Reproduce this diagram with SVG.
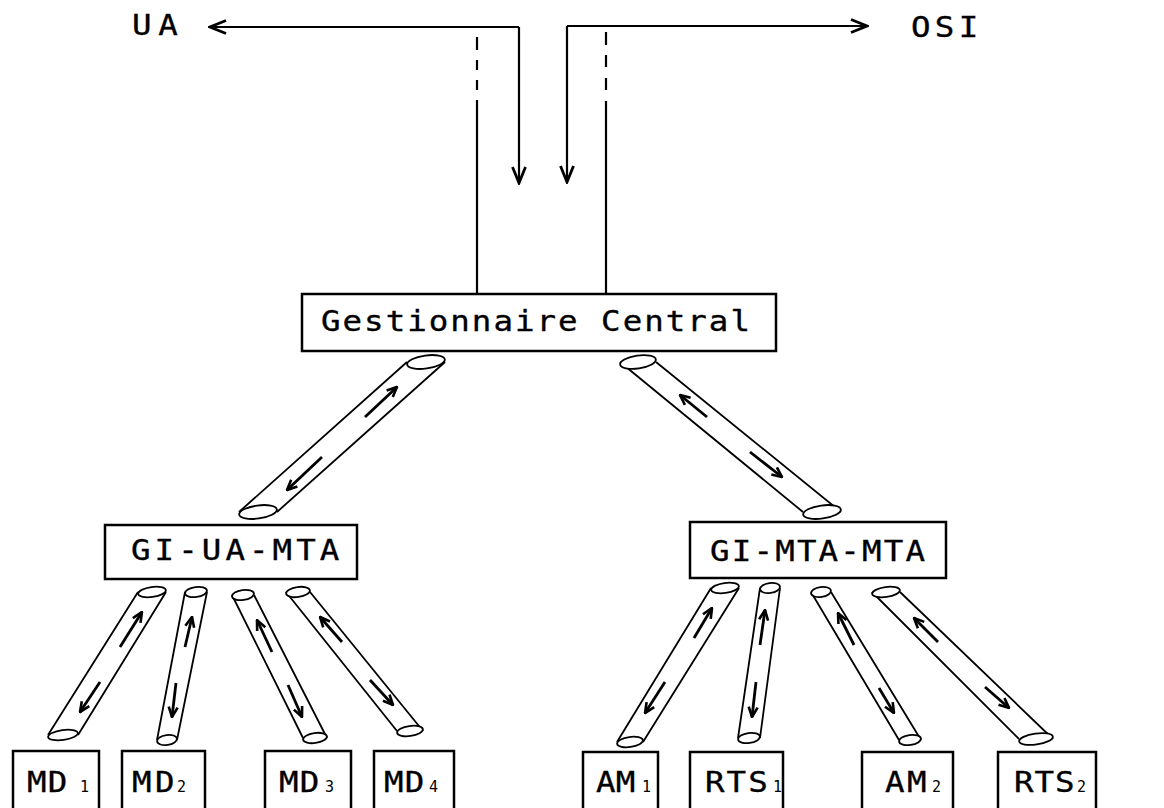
<svg xmlns="http://www.w3.org/2000/svg" width="1164" height="808" viewBox="0 0 1164 808">
<defs>
<style>
.box{fill:#fff;stroke:#000;stroke-width:2.5}
.lbl{font-family:"DejaVu Sans Mono","Liberation Mono",monospace;font-size:29px;fill:#000;stroke:#000;stroke-width:0.35}
.sub{font-family:"DejaVu Sans Mono","Liberation Mono",monospace;font-size:15px;fill:#000}
.ln{fill:none;stroke:#000;stroke-width:2.2}
.pipe{fill:none;stroke:#000;stroke-width:1.8}
.cap{fill:#fff;stroke:#000;stroke-width:1.8}
.ar{fill:none;stroke:#000;stroke-width:2.8;marker-end:url(#sm)}
</style>
<marker id="big" viewBox="0 0 20 16" refX="18" refY="8" markerWidth="20" markerHeight="16" markerUnits="userSpaceOnUse" orient="auto"><path d="M2,1.5 L18,8 L2,14.5" fill="none" stroke="#000" stroke-width="2.8"/></marker>
<marker id="sm" viewBox="0 0 12 12" refX="11" refY="6" markerWidth="12" markerHeight="12" markerUnits="userSpaceOnUse" orient="auto"><path d="M1,1.5 L11,6 L1,10.5" fill="none" stroke="#000" stroke-width="2.6"/></marker>
</defs>
<rect width="1164" height="808" fill="#fff"/>

<g id="connectors">
  <path class="ln" d="M519,27 H210" marker-end="url(#big)"/>
  <path class="ln" d="M519,27 V183" marker-end="url(#big)"/>
  <path class="ln" d="M567,26 H867" marker-end="url(#big)"/>
  <path class="ln" d="M567,26 V182" marker-end="url(#big)"/>
  <path class="ln" d="M477,37V50 M477,60V70 M477,80V90 M477,100V294"/>
  <path class="ln" d="M606,32V45 M606,55V67 M606,78V90 M606,101V294"/>

  <g id="pipe-gc-ua">
    <path class="pipe" d="M407,362 L239,512 M445,362 L277,512"/>
    <ellipse class="cap" cx="426" cy="362" rx="19" ry="6.5" transform="rotate(-8 426 362)"/>
    <ellipse class="cap" cx="258" cy="512" rx="19" ry="6.5" transform="rotate(-8 258 512)"/>
    <line class="ar" x1="365" y1="417" x2="397" y2="387"/>
    <line class="ar" x1="322" y1="457" x2="287" y2="490"/>
  </g>
  <g id="pipe-gc-mta">
    <path class="pipe" d="M620,362 L803,512 M656,362 L841,512"/>
    <ellipse class="cap" cx="638" cy="362" rx="18" ry="6.5" transform="rotate(-8 638 362)"/>
    <ellipse class="cap" cx="822" cy="512" rx="19" ry="6.5" transform="rotate(-8 822 512)"/>
    <line class="ar" x1="707" y1="417" x2="680" y2="395"/>
    <line class="ar" x1="750" y1="452" x2="782" y2="477"/>
  </g>

  <g id="pipe-md1">
    <path class="pipe" d="M138,592 L48,735 M166,592 L78,735"/>
    <ellipse class="cap" cx="152" cy="592" rx="14" ry="5" transform="rotate(-8 152 592)"/>
    <ellipse class="cap" cx="63" cy="735" rx="15" ry="5" transform="rotate(-8 63 735)"/>
    <line class="ar" x1="120" y1="647" x2="142" y2="612"/>
    <line class="ar" x1="100" y1="682" x2="80" y2="712"/>
  </g>
  <g id="pipe-md2">
    <path class="pipe" d="M185,592 L157,740 M207,592 L177,740"/>
    <ellipse class="cap" cx="196" cy="592" rx="11" ry="5" transform="rotate(-8 196 592)"/>
    <ellipse class="cap" cx="167" cy="740" rx="10" ry="5" transform="rotate(-8 167 740)"/>
    <line class="ar" x1="185" y1="647" x2="192" y2="617"/>
    <line class="ar" x1="176" y1="683" x2="172" y2="717"/>
  </g>
  <g id="pipe-md3">
    <path class="pipe" d="M232,595 L303,738 M254,595 L327,738"/>
    <ellipse class="cap" cx="243" cy="595" rx="11" ry="5" transform="rotate(-8 243 595)"/>
    <ellipse class="cap" cx="315" cy="738" rx="12" ry="5" transform="rotate(-8 315 738)"/>
    <line class="ar" x1="272" y1="652" x2="257" y2="620"/>
    <line class="ar" x1="288" y1="685" x2="302" y2="717"/>
  </g>
  <g id="pipe-md4">
    <path class="pipe" d="M286,592 L397,731 M310,592 L423,731"/>
    <ellipse class="cap" cx="298" cy="592" rx="12" ry="5" transform="rotate(-8 298 592)"/>
    <ellipse class="cap" cx="410" cy="731" rx="13" ry="5" transform="rotate(-8 410 731)"/>
    <line class="ar" x1="342" y1="642" x2="320" y2="617"/>
    <line class="ar" x1="370" y1="680" x2="393" y2="705"/>
  </g>

  <g id="pipe-am1">
    <path class="pipe" d="M711,588 L617,742 M739,588 L643,742"/>
    <ellipse class="cap" cx="725" cy="588" rx="14" ry="5" transform="rotate(-8 725 588)"/>
    <ellipse class="cap" cx="630" cy="742" rx="13" ry="5" transform="rotate(-8 630 742)"/>
    <line class="ar" x1="694" y1="638" x2="712" y2="608"/>
    <line class="ar" x1="665" y1="682" x2="645" y2="713"/>
  </g>
  <g id="pipe-rts1">
    <path class="pipe" d="M760,588 L738,738 M780,588 L760,738"/>
    <ellipse class="cap" cx="770" cy="588" rx="10" ry="5" transform="rotate(-8 770 588)"/>
    <ellipse class="cap" cx="749" cy="738" rx="11" ry="5" transform="rotate(-8 749 738)"/>
    <line class="ar" x1="760" y1="645" x2="765" y2="610"/>
    <line class="ar" x1="756" y1="682" x2="752" y2="717"/>
  </g>
  <g id="pipe-am2">
    <path class="pipe" d="M811,592 L899,740 M831,592 L921,740"/>
    <ellipse class="cap" cx="821" cy="592" rx="10" ry="5" transform="rotate(-8 821 592)"/>
    <ellipse class="cap" cx="910" cy="740" rx="11" ry="5" transform="rotate(-8 910 740)"/>
    <line class="ar" x1="854" y1="645" x2="838" y2="613"/>
    <line class="ar" x1="879" y1="688" x2="894" y2="713"/>
  </g>
  <g id="pipe-rts2">
    <path class="pipe" d="M872,592 L1019,739 M900,592 L1053,739"/>
    <ellipse class="cap" cx="886" cy="592" rx="14" ry="5" transform="rotate(-8 886 592)"/>
    <ellipse class="cap" cx="1036" cy="739" rx="17" ry="5.5" transform="rotate(-8 1036 739)"/>
    <line class="ar" x1="938" y1="642" x2="914" y2="618"/>
    <line class="ar" x1="985" y1="687" x2="1009" y2="708"/>
  </g>
</g>

<g id="ua"><text class="lbl" transform="translate(132 35) scale(1.12 1)" textLength="41" lengthAdjust="spacing">UA</text></g>
<g id="osi"><text class="lbl" transform="translate(911 37) scale(1.12 1)" textLength="60" lengthAdjust="spacing">OSI</text></g>

<g id="gestionnaire-central">
  <rect class="box" x="302" y="294" width="474" height="57"/>
  <text class="lbl" transform="translate(321 331) scale(1.12 1)" textLength="383" lengthAdjust="spacing">Gestionnaire Central</text>
</g>
<g id="gi-ua-mta">
  <rect class="box" x="105" y="525" width="252" height="54"/>
  <text class="lbl" transform="translate(131 560) scale(1.12 1)" textLength="186" lengthAdjust="spacing">GI-UA-MTA</text>
</g>
<g id="gi-mta-mta">
  <rect class="box" x="690" y="522" width="256" height="56"/>
  <text class="lbl" transform="translate(710 561) scale(1.12 1)" textLength="192" lengthAdjust="spacing">GI-MTA-MTA</text>
</g>

<g id="md1"><rect class="box" x="13" y="751" width="86" height="70"/><text class="lbl" transform="translate(27 792) scale(1.12 1)" textLength="36" lengthAdjust="spacing">MD</text><text class="sub" x="80" y="792">1</text></g>
<g id="md2"><rect class="box" x="122" y="751" width="83" height="70"/><text class="lbl" transform="translate(132 792) scale(1.12 1)" textLength="38" lengthAdjust="spacing">MD</text><text class="sub" x="177" y="792">2</text></g>
<g id="md3"><rect class="box" x="265" y="751" width="86" height="70"/><text class="lbl" transform="translate(279 792) scale(1.12 1)" textLength="36" lengthAdjust="spacing">MD</text><text class="sub" x="325" y="792">3</text></g>
<g id="md4"><rect class="box" x="374" y="751" width="80" height="70"/><text class="lbl" transform="translate(384 792) scale(1.12 1)" textLength="36" lengthAdjust="spacing">MD</text><text class="sub" x="429" y="792">4</text></g>

<g id="am1"><rect class="box" x="583" y="752" width="75" height="70"/><text class="lbl" transform="translate(596 792) scale(1.12 1)" textLength="35" lengthAdjust="spacing">AM</text><text class="sub" x="642" y="792">1</text></g>
<g id="rts1"><rect class="box" x="690" y="752" width="93" height="70"/><text class="lbl" transform="translate(705 792) scale(1.12 1)" textLength="56" lengthAdjust="spacing">RTS</text><text class="sub" x="773" y="792">1</text></g>
<g id="am2"><rect class="box" x="862" y="752" width="91" height="70"/><text class="lbl" transform="translate(885 792) scale(1.12 1)" textLength="37" lengthAdjust="spacing">AM</text><text class="sub" x="932" y="792">2</text></g>
<g id="rts2"><rect class="box" x="998" y="752" width="98" height="70"/><text class="lbl" transform="translate(1014 792) scale(1.12 1)" textLength="54" lengthAdjust="spacing">RTS</text><text class="sub" x="1077" y="792">2</text></g>
</svg>
